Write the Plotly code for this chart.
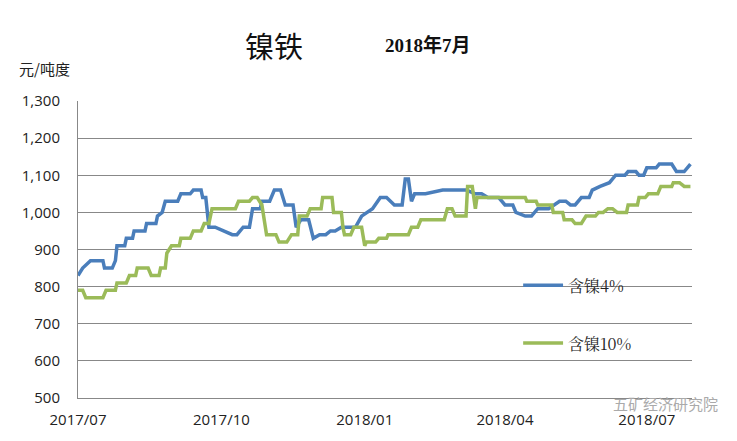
import pandas as pd
import plotly.graph_objects as go

START = pd.Timestamp("2017-07-01")

# day offsets from 2017-07-01 and prices (元/吨度)
ni4_days = [0, 3, 8, 16, 17, 22, 24, 25, 30, 31, 35, 36, 43, 44, 50, 51, 54, 56, 64, 66,
            72, 74, 79, 80, 82, 84, 88, 99, 102, 106, 110, 112, 117, 118, 123, 126, 130, 133,
            138, 140, 143, 148, 151, 155, 159, 162, 165, 169, 178, 182, 189, 194, 198, 203,
            208, 210, 212, 214, 216, 223, 234, 249, 255, 259, 263, 270, 274, 279, 281, 287,
            291, 295, 302, 309, 313, 316, 319, 323, 328, 330, 335, 341, 345, 351, 353, 358,
            360, 363, 365, 371, 373, 381, 384, 389, 393]
ni4_vals = [830, 850, 870, 870, 850, 850, 870, 910, 910, 930, 930, 950, 950, 970, 970, 990,
            1000, 1030, 1030, 1050, 1050, 1060, 1060, 1040, 1040, 960, 960, 940, 940, 960,
            960, 1010, 1010, 1030, 1030, 1060, 1060, 1020, 1020, 960, 980, 980, 930, 940,
            940, 950, 950, 960, 960, 990, 1010, 1040, 1040, 1020, 1020, 1090, 1090, 1030,
            1050, 1050, 1060, 1060, 1050, 1050, 1040, 1040, 1020, 1020, 1000, 990, 990, 1010,
            1010, 1030, 1030, 1020, 1020, 1040, 1040, 1060, 1070, 1080, 1100, 1100, 1110,
            1110, 1100, 1100, 1120, 1120, 1130, 1130, 1110, 1110, 1130]

ni10_days = [0, 3, 5, 16, 18, 24, 25, 31, 33, 37, 38, 45, 47, 52, 53, 56, 57, 60, 65, 66,
             72, 74, 79, 81, 84, 86, 101, 103, 110, 112, 115, 118, 121, 127, 129, 134, 137,
             141, 142, 147, 149, 156, 157, 163, 164, 169, 170, 171, 175, 177, 182, 184, 185,
             191, 193, 198, 199, 212, 214, 218, 220, 235, 237, 240, 242, 249, 250, 253, 255,
             256, 287, 288, 294, 295, 304, 305, 311, 312, 317, 319, 323, 326, 332, 334, 337,
             340, 343, 346, 352, 353, 359, 360, 364, 366, 372, 374, 381, 382, 386, 389, 393]
ni10_vals = [790, 790, 770, 770, 790, 790, 810, 810, 830, 830, 850, 850, 830, 830, 850, 850,
             890, 910, 910, 930, 930, 950, 950, 970, 970, 1010, 1010, 1030, 1030, 1040, 1040,
             1020, 940, 940, 920, 920, 940, 940, 990, 990, 1010, 1010, 1040, 1040, 1000, 1000,
             960, 940, 940, 960, 960, 910, 920, 920, 930, 930, 940, 940, 960, 960, 980, 980,
             1010, 1010, 990, 990, 1070, 1070, 1010, 1040, 1040, 1030, 1030, 1020, 1020, 1000,
             1000, 980, 980, 970, 970, 990, 990, 1000, 1000, 1010, 1010, 1000, 1000, 1020,
             1020, 1040, 1040, 1050, 1050, 1070, 1070, 1080, 1080, 1070, 1070]

tick_dates = ["2017-07-01", "2017-10-01", "2018-01-01", "2018-04-01", "2018-07-01"]
tick_text = ["2017/07", "2017/10", "2018/01", "2018/04", "2018/07"]

BLUE = "#4A7EBB"
GREEN = "#9BBB59"


def to_dates(days):
    return [START + pd.Timedelta(days=d) for d in days]


fig = go.Figure()
fig.add_trace(go.Scatter(x=to_dates(ni4_days), y=ni4_vals, mode="lines",
                         line=dict(color=BLUE, width=3.5), name="含镍4%"))
fig.add_trace(go.Scatter(x=to_dates(ni10_days), y=ni10_vals, mode="lines",
                         line=dict(color=GREEN, width=3.5), name="含镍10%"))

tick_font = dict(family="Open Sans, Liberation Sans", size=15, color="#222")
fig.update_xaxes(range=[START, START + pd.Timedelta(days=394)],
                 tickvals=tick_dates, ticktext=tick_text, tickfont=tick_font,
                 showgrid=False, showline=True, linecolor="#888", ticks="",
                 ticklabelstandoff=8)
fig.update_yaxes(range=[500, 1300], dtick=100, tickformat=",", tickfont=tick_font,
                 showgrid=True, gridcolor="#888", gridwidth=1, showline=True,
                 linecolor="#888", zeroline=False, ticks="", ticklabelstandoff=14)

# legend drawn by hand, it sits inside the plot area
for yy, col, txt in [(0.38, BLUE, "含镍4%"), (0.185, GREEN, "含镍10%")]:
    fig.add_shape(type="line", xref="paper", yref="paper", x0=0.725, x1=0.79,
                  y0=yy, y1=yy, line=dict(color=col, width=3.5))
    fig.add_annotation(xref="paper", yref="paper", x=0.795, y=yy, text=txt,
                       showarrow=False, xanchor="left", yanchor="middle",
                       font=dict(family="Noto Serif CJK SC, Liberation Serif", size=16, color="#222"))

fig.add_annotation(xref="paper", yref="paper", x=0.32, y=1.19, xanchor="center",
                   yanchor="middle", text="镍铁", showarrow=False,
                   font=dict(family="Noto Sans CJK SC", size=29, color="#111"))
fig.add_annotation(xref="paper", yref="paper", x=0.57, y=1.19, xanchor="center",
                   yanchor="middle", text="<b>2018年7月</b>", showarrow=False,
                   font=dict(family="Liberation Serif, Noto Sans CJK SC", size=19, color="#111"))
fig.add_annotation(xref="paper", yref="paper", x=-0.1, y=1.11, yanchor="middle",
                   text="元/吨度", showarrow=False, xanchor="left",
                   font=dict(family="Noto Sans CJK SC", size=15, color="#222"))
fig.add_annotation(xref="paper", yref="paper", x=1.045, y=-0.02, yanchor="middle",
                   text="五矿经济研究院", showarrow=False, xanchor="right",
                   font=dict(family="Noto Sans CJK SC", size=15, color="#aaa"))

fig.update_layout(width=737, height=441, showlegend=False,
                  paper_bgcolor="white", plot_bgcolor="white",
                  margin=dict(l=70, r=53, t=93, b=51))

fig.write_html("out.html")
